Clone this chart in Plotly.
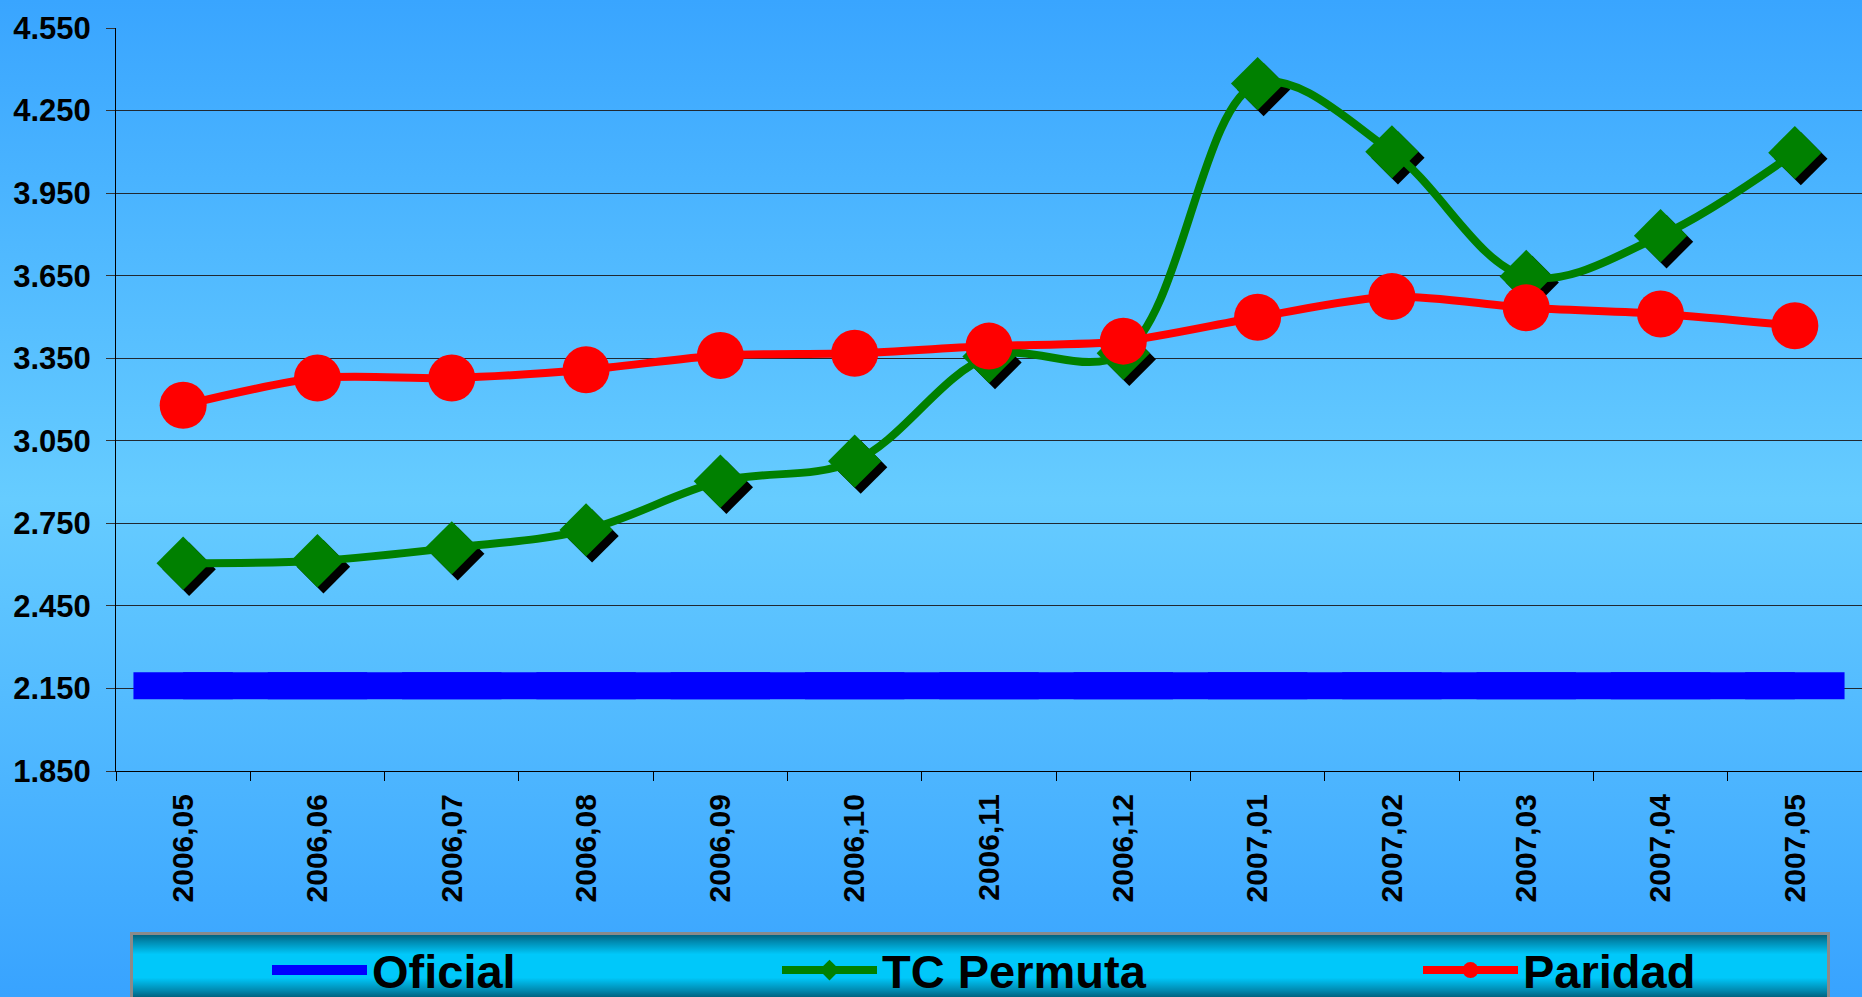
import base64
import plotly.graph_objects as go

categories = ["2006,05", "2006,06", "2006,07", "2006,08", "2006,09", "2006,10", "2006,11",
              "2006,12", "2007,01", "2007,02", "2007,03", "2007,04", "2007,05"]
oficial = [2.16, 2.16, 2.16, 2.16, 2.16, 2.16, 2.16, 2.16, 2.16, 2.16, 2.16, 2.16, 2.16]
tc_permuta = [2.605, 2.614, 2.661, 2.726, 2.903, 2.976, 3.356, 3.368, 4.348, 4.100, 3.647, 3.795, 4.097]
paridad = [3.179, 3.278, 3.278, 3.308, 3.360, 3.368, 3.394, 3.412, 3.499, 3.574, 3.533, 3.511, 3.468]
y_tick_values = [1.85, 2.15, 2.45, 2.75, 3.05, 3.35, 3.65, 3.95, 4.25, 4.55]
y_tick_labels = ["1.850", "2.150", "2.450", "2.750", "3.050", "3.350", "3.650", "3.950", "4.250", "4.550"]

W, H = 1862, 997
ML, MT, MB = 116, 28, 226
PW, PH = W - ML, H - MT - MB
YMIN, YMAX = 1.85, 4.55
N = len(categories)

# shadow offset (px) -> axis range shift
dx_px, dy_px = 6, 6
dx = dx_px * N / PW
dy = dy_px * (YMAX - YMIN) / PH

FONT = "Liberation Sans, Arial, sans-serif"


def svg_uri(svg):
    return "data:image/svg+xml;base64," + base64.b64encode(svg.encode()).decode()


bg_svg = f"""<svg xmlns='http://www.w3.org/2000/svg' width='{W}' height='{H}' viewBox='0 0 {W} {H}' preserveAspectRatio='none'>
<defs><linearGradient id='g' x1='0' y1='0' x2='0' y2='1'>
<stop offset='0' stop-color='#39A5FF'/>
<stop offset='0.5' stop-color='#66CCFF'/>
<stop offset='1' stop-color='#38A3FF'/>
</linearGradient></defs>
<rect x='0' y='0' width='{W}' height='{H}' fill='url(#g)'/></svg>"""

LX0, LX1, LY0, LY1 = 130, 1830, 932, 1000
lg_w, lg_h = LX1 - LX0, LY1 - LY0
legend_svg = f"""<svg xmlns='http://www.w3.org/2000/svg' width='{lg_w}' height='{lg_h}' viewBox='0 0 {lg_w} {lg_h}' preserveAspectRatio='none'>
<defs><linearGradient id='l' x1='0' y1='0' x2='0' y2='1'>
<stop offset='0' stop-color='#005A75'/>
<stop offset='0.12' stop-color='#0088AE'/>
<stop offset='0.32' stop-color='#00C8FA'/>
<stop offset='0.68' stop-color='#00C8FA'/>
<stop offset='0.88' stop-color='#0088AE'/>
<stop offset='1' stop-color='#005A75'/>
</linearGradient></defs>
<rect x='1.5' y='1.5' width='{lg_w-3}' height='{lg_h-3}' fill='url(#l)' stroke='#8A8A8A' stroke-width='3'/></svg>"""


def px_to_paper_x(px):
    return (px - ML) / PW


def px_to_paper_y(py):
    return (H - MB - py) / PH


fig = go.Figure()

fig.add_trace(go.Scatter(
    x=categories, y=oficial, name="Oficial", mode="lines+markers",
    line=dict(color="#0000FF", width=27),
    marker=dict(symbol="line-ew", size=71, color="#0000FF",
                line=dict(color="#0000FF", width=27)),
    xaxis="x", yaxis="y", legendwidth=400,
))

fig.add_trace(go.Scatter(
    x=categories, y=tc_permuta, name="shadow", mode="markers", showlegend=False,
    marker=dict(symbol="diamond", size=41, color="#000000", line=dict(width=0)),
    xaxis="x2", yaxis="y2", hoverinfo="skip",
))

fig.add_trace(go.Scatter(
    x=categories, y=tc_permuta, name="TC Permuta", mode="lines+markers",
    line=dict(color="#008000", width=8, shape="spline", smoothing=1.0),
    marker=dict(symbol="diamond", size=41, color="#008000", line=dict(width=0)),
    xaxis="x3", yaxis="y3", legendwidth=531,
))

fig.add_trace(go.Scatter(
    x=categories, y=paridad, name="Paridad", mode="lines+markers",
    line=dict(color="#FF0000", width=8, shape="spline", smoothing=0.8),
    marker=dict(symbol="circle", size=47, color="#FF0000", line=dict(width=0)),
    xaxis="x3", yaxis="y3", legendwidth=200,
))

hidden_x = dict(type="category", categoryorder="array", categoryarray=categories,
                overlaying="x", visible=False, showgrid=False, zeroline=False)
hidden_y = dict(overlaying="y", visible=False, showgrid=False, zeroline=False)

fig.update_layout(
    width=W, height=H,
    margin=dict(l=ML, r=0, t=MT, b=MB, autoexpand=False),
    paper_bgcolor="#3AA6FF",
    plot_bgcolor="rgba(0,0,0,0)",
    font=dict(family=FONT, color="#000000"),
    showlegend=True,
    xaxis=dict(
        type="category", categoryorder="array", categoryarray=categories,
        range=[-0.5, N - 0.5],
        tickson="boundaries", ticks="outside", ticklen=9, tickcolor="#000000", tickwidth=1,
        showline=True, linecolor="#000000", linewidth=1, showgrid=False, zeroline=False,
        tickangle=-90, ticklabelstandoff=10,
        tickfont=dict(family=FONT, size=30, weight="bold", color="#000000"),
    ),
    yaxis=dict(
        range=[YMIN, YMAX], tickmode="array", tickvals=y_tick_values, ticktext=y_tick_labels,
        ticks="outside", ticklen=9, tickcolor="#333333", tickwidth=1,
        showline=True, linecolor="#000000", linewidth=1,
        showgrid=True, gridcolor="#202830", gridwidth=1, zeroline=False,
        ticklabelstandoff=9,
        tickfont=dict(family=FONT, size=31, weight="bold", color="#000000"),
    ),
    xaxis2=dict(hidden_x, range=[-0.5 - dx, N - 0.5 - dx]),
    yaxis2=dict(hidden_y, range=[YMIN + dy, YMAX + dy]),
    xaxis3=dict(hidden_x, range=[-0.5, N - 0.5]),
    yaxis3=dict(hidden_y, range=[YMIN, YMAX]),
    legend=dict(
        orientation="h", x=px_to_paper_x(267), xanchor="left",
        y=px_to_paper_y(LY0 + 1), yanchor="top",
        bgcolor="rgba(0,0,0,0)", borderwidth=0, itemwidth=95,
        font=dict(family=FONT, size=47, weight="bold", color="#000000"),
        itemclick=False, itemdoubleclick=False,
    ),
    images=[
        dict(source=svg_uri(bg_svg), xref="paper", yref="paper",
             x=px_to_paper_x(0), y=px_to_paper_y(0), sizex=W / PW, sizey=H / PH,
             xanchor="left", yanchor="top", sizing="stretch", layer="below"),
        dict(source=svg_uri(legend_svg), xref="paper", yref="paper",
             x=px_to_paper_x(LX0), y=px_to_paper_y(LY0), sizex=lg_w / PW, sizey=lg_h / PH,
             xanchor="left", yanchor="top", sizing="stretch", layer="below"),
    ],
)

fig.write_html(
    "out.html",
    config={"displayModeBar": False},
    post_script="document.body.style.margin='0';document.body.style.padding='0';"
                "document.body.style.overflow='hidden';",
)
